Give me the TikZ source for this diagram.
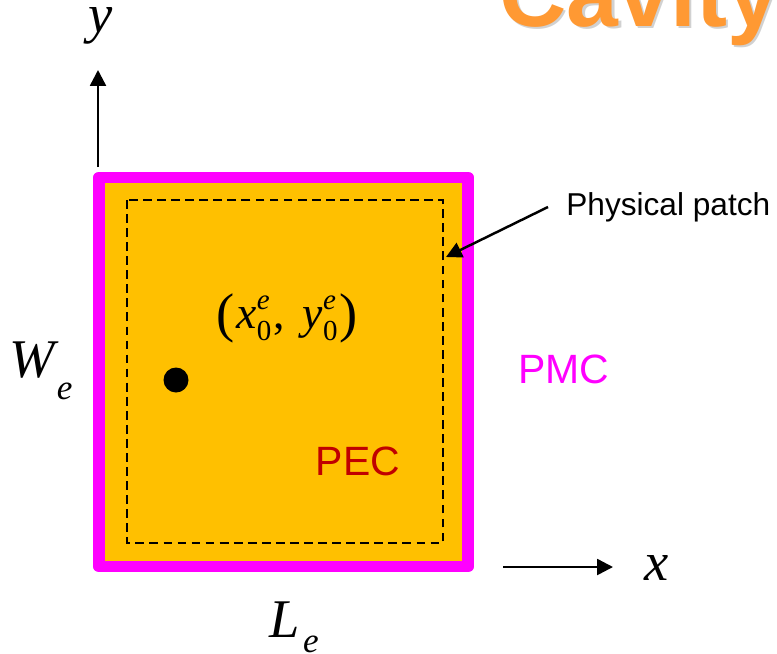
\documentclass[tikz,border=0pt]{standalone}
\usepackage{fontspec}
\setmainfont{Liberation Serif}
\setsansfont{Liberation Sans}
\usetikzlibrary{arrows.meta}

\definecolor{pecgold}{HTML}{FFC000}
\definecolor{pmcmagenta}{HTML}{FF00FF}
\definecolor{pecred}{HTML}{C00000}
\definecolor{titleorange}{HTML}{FF9933}

\newcommand{\eidx}[2]{\rlap{\raisebox{10.5pt}{\fontsize{16.5}{18}\selectfont\textit{#1}}}%
\raisebox{-7pt}{\fontsize{16.5}{18}\selectfont #2}}
\newcommand{\bigparen}[1]{\raisebox{-2pt}{\fontsize{31}{34}\selectfont #1}}

\begin{document}
\begin{tikzpicture}[x=0.02cm, y=-0.02cm,
  mathlbl/.style={anchor=base, inner sep=0pt, font={\fontsize{31}{36}\selectfont\itshape}},
  sanslbl/.style={inner sep=0pt, font={\sffamily\fontsize{23.3}{28}\selectfont}},
  titlelbl/.style={anchor=base west, inner sep=0pt, font={\sffamily\bfseries\fontsize{53}{60}\selectfont}},
  axisarrow/.style={line width=1.4pt, -{Triangle[length=9pt, width=9pt]}}]

\useasboundingbox (0,0) rectangle (777,653);

\node [titlelbl, text=black!18] (title-shadow) at (501.5,28.5) {Cavity};
\node [titlelbl, text=titleorange] (title) at (499,26) {Cavity};


\draw [pmcmagenta, line width=6.8pt, line join=round, fill=pecgold]
 (99,177.5) rectangle (468,566.5);

\draw [black, line width=1.6pt, dash pattern=on 5pt off 3pt]
 (127,200) rectangle (443,543);


\node [circle, fill=black, minimum size=0.5cm, inner sep=0pt] (feed) at (176,380) {};

\node [anchor=base, inner sep=0pt, font={\fontsize{26}{30}\selectfont}] (feed-label) at (287,328)
 {\bigparen{(}\hspace{1pt}\textit{x}\eidx{e}{0}\hspace{1pt},\hspace{0.4em}\textit{y}\eidx{e}{0}\hspace{1pt}\bigparen{)}};

\node [sanslbl, text=pecred] (pec) at (358,461) {PEC};
\node [sanslbl, text=pmcmagenta] (pmc) at (564,369) {PMC};

\node [anchor=base west, inner sep=0pt, font={\sffamily\fontsize{18}{22}\selectfont}]
 (patch) at (566,215) {Physical patch};

\coordinate (patch-tail) at (548,207);
\coordinate (patch-tip) at (446,257);
\draw [axisarrow] (patch-tail) -- (patch-tip);


\node [mathlbl] (we) at (41,377) {W\hspace{1pt}\raisebox{-13pt}{\fontsize{20}{24}\selectfont e}};
\node [mathlbl] (le) at (294,637) {L\hspace{2pt}\raisebox{-9pt}{\fontsize{20}{24}\selectfont e}};
\node [mathlbl] (ylabel) at (101,32) {y};
\node [mathlbl] (xlabel) at (657,580) {x};

\coordinate (y-tail) at (98,167);
\coordinate (y-tip) at (98,70);
\draw [axisarrow] (y-tail) -- (y-tip);

\coordinate (x-tail) at (503,567);
\coordinate (x-tip) at (613,567);
\draw [axisarrow] (x-tail) -- (x-tip);

\end{tikzpicture}
\end{document}
